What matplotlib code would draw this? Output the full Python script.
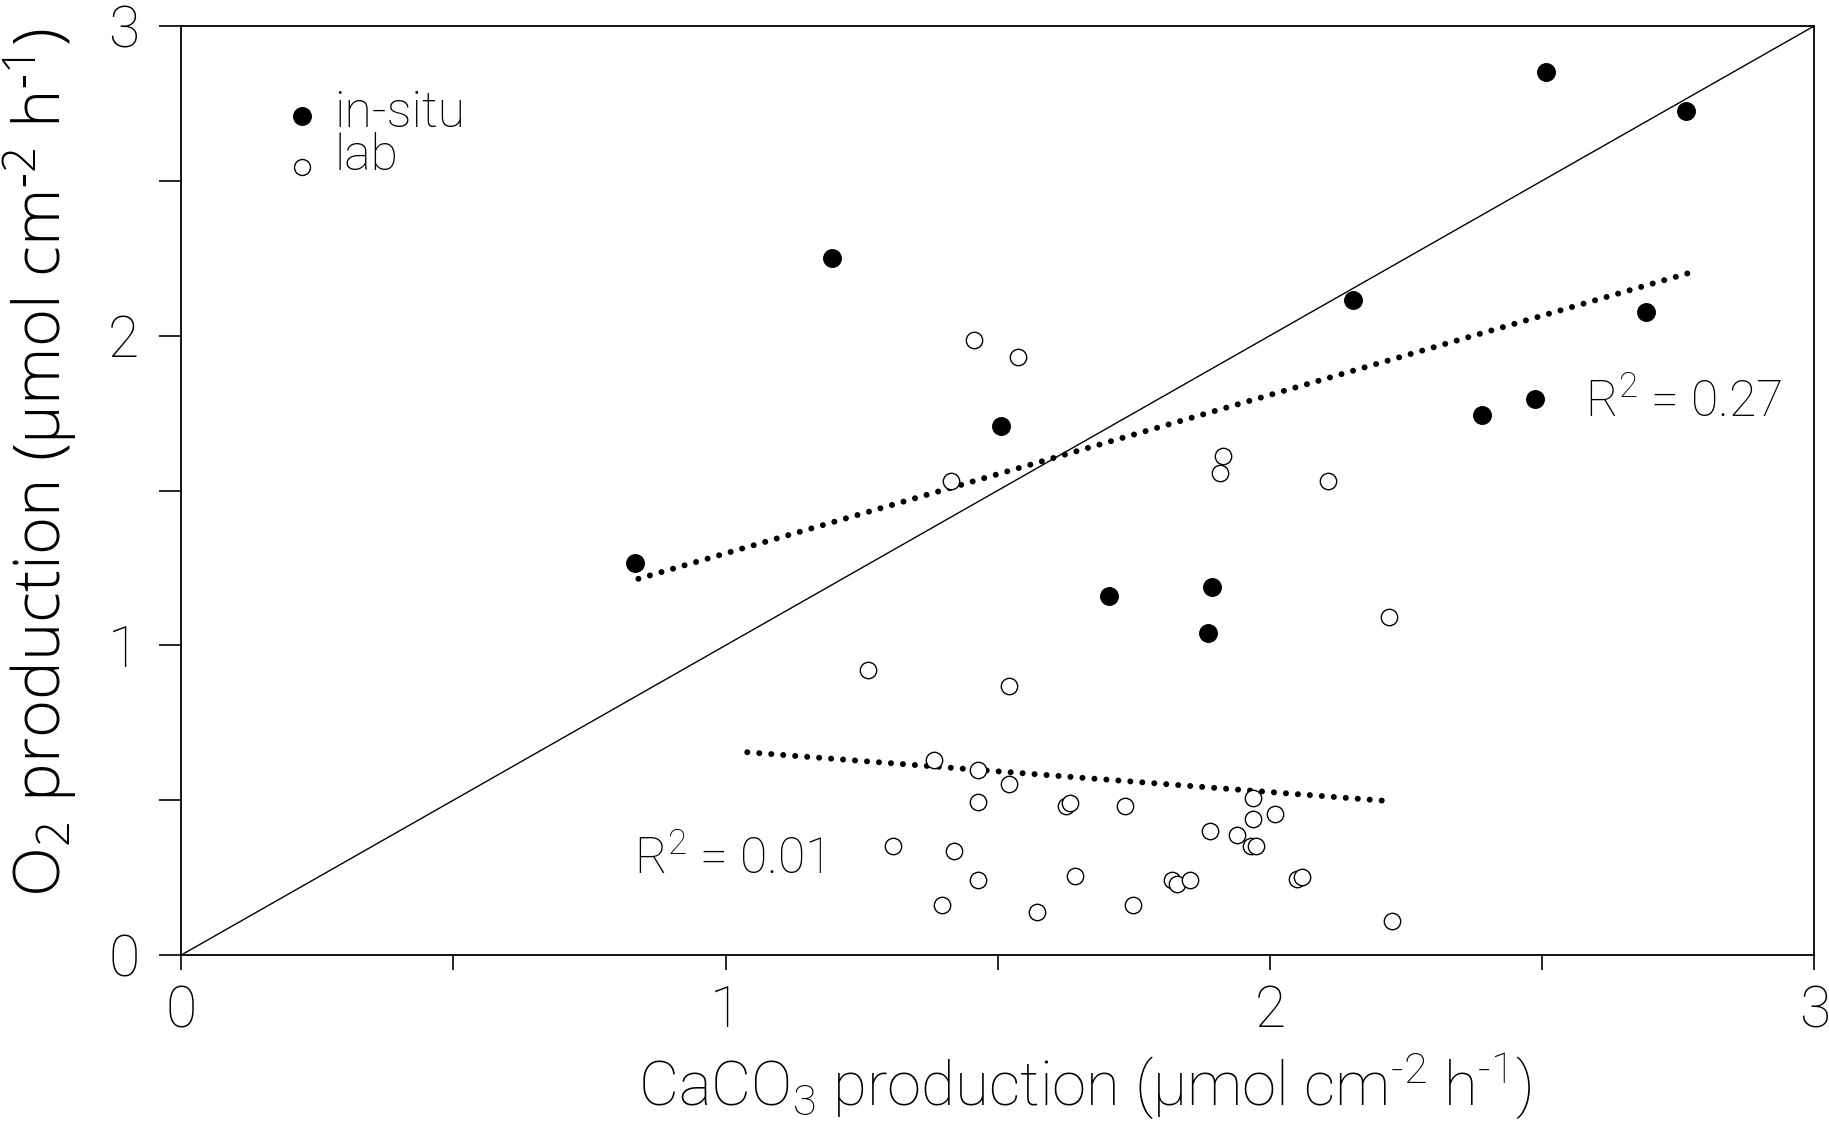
import matplotlib
matplotlib.use("Agg")
import matplotlib.pyplot as plt
from matplotlib.ticker import MultipleLocator
from matplotlib import font_manager

# in-situ measurements (filled)
insitu_caco3 = [0.833, 1.196, 1.506, 1.704, 1.894, 1.886, 2.153, 2.39, 2.487, 2.507, 2.69, 2.765]
insitu_o2 = [1.265, 2.25, 1.708, 1.16, 1.187, 1.04, 2.115, 1.745, 1.797, 2.85, 2.075, 2.725]

# lab measurements (open)
lab_caco3 = [1.456, 1.538, 1.414, 1.914, 1.908, 2.107, 2.218, 1.262, 1.521, 1.383, 1.463, 1.521,
             1.463, 1.626, 1.632, 1.733, 1.968, 2.01, 1.968, 1.89, 1.94, 1.965, 1.975, 1.308,
             1.42, 1.463, 1.642, 1.82, 1.83, 1.853, 2.05, 2.058, 1.398, 1.572, 1.748, 2.225]
lab_o2 = [1.985, 1.932, 1.53, 1.61, 1.557, 1.53, 1.093, 0.92, 0.868, 0.631, 0.598, 0.551,
          0.494, 0.482, 0.492, 0.482, 0.506, 0.455, 0.439, 0.402, 0.387, 0.352, 0.352, 0.352,
          0.335, 0.244, 0.255, 0.244, 0.229, 0.244, 0.245, 0.252, 0.163, 0.138, 0.163, 0.11]

# regression lines (end points)
insitu_fit_x = [0.84, 2.775]
insitu_fit_y = [1.215, 2.205]
lab_fit_x = [1.04, 2.22]
lab_fit_y = [0.655, 0.497]

names = {f.name for f in font_manager.fontManager.ttflist}
fam = "Roboto" if "Roboto" in names else "DejaVu Sans"
yfam = "Open Sans" if "Open Sans" in names else "DejaVu Sans"
plt.rcParams["font.family"] = fam
plt.rcParams["font.weight"] = "light"
plt.rcParams["mathtext.default"] = "regular"

fig = plt.figure(figsize=(18.29, 11.25), dpi=100)
ax = fig.add_axes([0.099, 0.151, 0.893, 0.826])

ax.plot([0, 3], [0, 3], color="black", lw=1.0)
dots = (0, (0.01, 2.0))
ax.plot(insitu_fit_x, insitu_fit_y, color="black", lw=4.3, linestyle=dots,
        dash_capstyle="round")
ax.plot(lab_fit_x, lab_fit_y, color="black", lw=4.3, linestyle=dots,
        dash_capstyle="round")

ax.plot(lab_caco3, lab_o2, "o", ms=11.8, mfc="white", mec="black", mew=1.0)
ax.plot(insitu_caco3, insitu_o2, "o", ms=12.6, mfc="black", mec="black")

# legend drawn by hand like the original
ax.plot([0.2227], [2.71], "o", ms=12.6, mfc="black", mec="black")
ax.plot([0.2227], [2.543], "o", ms=11.5, mfc="white", mec="black", mew=1.0)
ax.text(0.281, 2.674, "in-situ", fontsize=36, va="baseline")
ax.text(0.281, 2.534, "lab", fontsize=36, va="baseline")

ax.text(2.578, 1.738, "R$^2$ = 0.27", fontsize=36, va="baseline")
ax.text(0.832, 0.2605, "R$^2$ = 0.01", fontsize=36, va="baseline")

ax.set_xlim(0, 3)
ax.set_ylim(0, 3)
ax.xaxis.set_major_locator(MultipleLocator(1))
ax.xaxis.set_minor_locator(MultipleLocator(0.5))
ax.yaxis.set_major_locator(MultipleLocator(1))
ax.yaxis.set_minor_locator(MultipleLocator(0.5))
ax.tick_params(axis="x", which="both", direction="out", length=11, width=1.2,
               labelsize=41, pad=10)
ax.tick_params(axis="y", which="both", direction="out", length=16, width=1.2,
               labelsize=41, pad=14)
for s in ax.spines.values():
    s.set_linewidth(1.3)

hy = "\u2010"
ax.text(0.553, -0.1625, "CaCO$_3$ production (µmol cm$^{" + hy + "2}$ h$^{" + hy + "1}$)",
        transform=ax.transAxes, fontsize=44.5, ha="center", va="baseline")
ax.text(-0.074, 0.53, "O$_2$ production (µmol cm$^{" + hy + "2}$ h$^{" + hy + "1}$)",
        transform=ax.transAxes, fontsize=47, family=yfam, ha="center", va="baseline",
        rotation=90, rotation_mode="anchor")

fig.savefig("out.png", dpi=100)
